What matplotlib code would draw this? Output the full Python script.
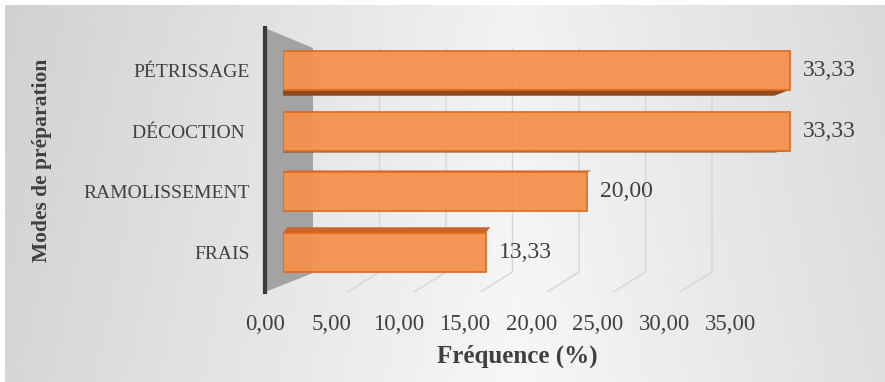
import numpy as np
import matplotlib.pyplot as plt
from matplotlib.patches import Polygon

# data
categories = ['FRAIS', 'RAMOLISSEMENT', 'DÉCOCTION ', 'PÉTRISSAGE']
values = [13.33, 20.00, 33.33, 33.33]
x_ticks = [0, 5, 10, 15, 20, 25, 30, 35]

W, H = 885, 382
fig = plt.figure(figsize=(W / 100, H / 100), dpi=100, facecolor='white')
plt.rcParams['font.family'] = ['Liberation Serif', 'DejaVu Serif']


def fx(px):
    return px / W


def fy(py):
    return 1 - py / H


# grey gradient background
bg = fig.add_axes([fx(5), 0, fx(880), fy(5)], zorder=-10)
t = np.linspace(0, 1, 300)
row = 0.95 - 0.13 * np.abs(t - 0.58) / 0.58
vert = np.linspace(0, 0.02, 100)[:, None]
grad = np.clip(row[None, :] + vert, 0, 1)
bg.imshow(np.dstack([grad, grad, grad]), aspect='auto', extent=[0, 1, 0, 1])
bg.axis('off')

# back plane with ticks
ax = fig.add_axes([fx(265), fy(292), fx(731 - 265), (292 - 28) / H])
ax.set_xlim(0, 35)
ax.set_ylim(0, 1)
ax.patch.set_alpha(0)
for s in ['top', 'right', 'bottom']:
    ax.spines[s].set_visible(False)
ax.spines['left'].set_color('#3a3a3a')
ax.spines['left'].set_linewidth(3)
ax.set_yticks([])
ax.set_xticks(x_ticks)
ax.set_xticklabels([f'{v:.2f}'.replace('.', ',') for v in x_ticks],
                   fontsize=16.5, color='#404040')
ax.tick_params(axis='x', length=0, pad=16)

# side wall
wall = Polygon([(0, 1), (48 / 466, 1 - 20 / 264), (48 / 466, 1 - 245 / 264), (0, 0)],
               closed=True, transform=ax.transAxes, facecolor='#a3a3a3',
               edgecolor='none')
ax.add_patch(wall)

# grid lines on the back wall and floor
for k in range(1, 8):
    xb = (48 + 66.5 * k) / 466
    ax.plot([xb, xb, xb - 32 / 466], [1 - 20 / 264, 20 / 264, 0],
            transform=ax.transAxes, color='#d6d6d6', lw=1, zorder=0)

# front bars
axb = fig.add_axes([fx(283), fy(283), fx(35 * 15.2), (283 - 40) / H], zorder=5)
axb.set_xlim(0, 35)
axb.set_ylim(-0.5, 3.5)
axb.patch.set_alpha(0)
for s in axb.spines.values():
    s.set_visible(False)
axb.set_xticks([])
ypos = np.arange(len(categories))
axb.set_yticks(ypos)
axb.set_yticklabels(categories, fontsize=14, color='#404040')
axb.tick_params(axis='y', length=0, pad=24)

h = 0.64
for y, v in zip(ypos, values):
    off = y - 1.5
    dy = 0.065 * off
    if off > 0:
        edge = y - h / 2
        face = [(0, edge), (v, edge), (v - 1.0, edge - dy), (0, edge - dy)]
        fc = '#8e4b1f'
    else:
        edge = y + h / 2
        face = [(0, edge), (v, edge), (v + 0.3, edge - dy), (0.3, edge - dy)]
        fc = '#c8652a'
    axb.add_patch(Polygon(face, closed=True, facecolor=fc, edgecolor='none', zorder=2))

axb.barh(ypos, values, height=h, color='#f4914d', edgecolor='#e06a1d',
         linewidth=1.3, alpha=0.95, zorder=3)
for y, v in zip(ypos, values):
    axb.text(v + 0.85, y, f'{v:.2f}'.replace('.', ','), ha='left', va='center',
             fontsize=17, color='#404040')

fig.text(fx(42), fy(160), 'Modes de préparation', rotation=90, ha='center',
         va='center', fontsize=15.5, fontweight='bold', color='#404040')
fig.text(fx(517), fy(356), 'Fréquence (%)', ha='center', va='center',
         fontsize=18, fontweight='bold', color='#404040')

fig.savefig('out.png', dpi=100, facecolor='white')
